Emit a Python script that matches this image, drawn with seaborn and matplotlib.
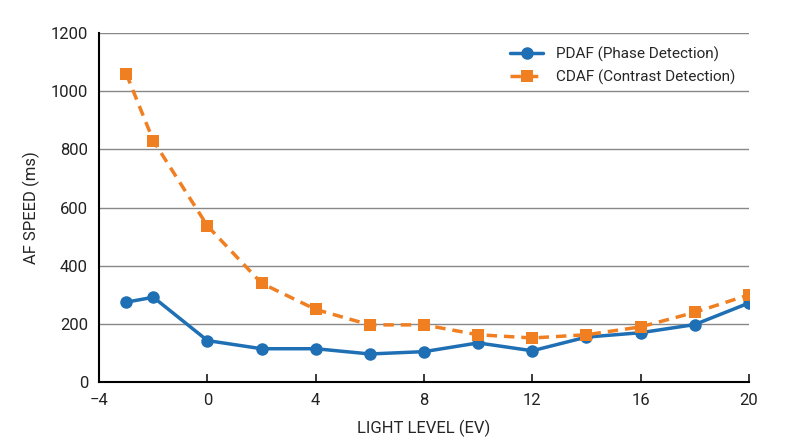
import numpy as np
import pandas as pd
import matplotlib.pyplot as plt
import seaborn as sns

# data
light_ev = [-3, -2, 0, 2, 4, 6, 8, 10, 12, 14, 16, 18, 20]
pdaf_ms = [275, 292, 143, 115, 115, 97, 105, 135, 108, 155, 170, 198, 272]
cdaf_ms = [1060, 830, 537, 340, 250, 197, 197, 163, 152, 163, 190, 240, 300]

sns.set_theme(style="white")
plt.rcParams['font.family'] = ['Roboto', 'DejaVu Sans']

df = pd.DataFrame({
    'ev': light_ev * 2,
    'ms': pdaf_ms + cdaf_ms,
    'series': ['PDAF (Phase Detection)'] * len(light_ev) + ['CDAF (Contrast Detection)'] * len(light_ev),
})

fig, ax = plt.subplots(figsize=(8, 4.47), dpi=100)
palette = {'PDAF (Phase Detection)': '#1f6fb4', 'CDAF (Contrast Detection)': '#f07f22'}
sns.lineplot(data=df, x='ev', y='ms', hue='series', style='series', palette=palette,
             markers={'PDAF (Phase Detection)': 'o', 'CDAF (Contrast Detection)': 's'},
             dashes={'PDAF (Phase Detection)': '', 'CDAF (Contrast Detection)': (3, 2)},
             markersize=9, markeredgewidth=0, linewidth=2.5, ax=ax)

ax.set_xlim(-4, 20)
ax.set_ylim(0, 1200)
ax.set_xticks(range(-4, 21, 4))
ax.set_yticks(range(0, 1201, 200))
ax.yaxis.grid(True, color='#888888', linewidth=1)
ax.set_axisbelow(True)
for s in ['top', 'right']:
    ax.spines[s].set_visible(False)
for s in ['left', 'bottom']:
    ax.spines[s].set_color('black')
    ax.spines[s].set_linewidth(1.5)
ax.tick_params(axis='x', direction='in', length=6, pad=8, colors='#222222', labelsize=12, bottom=True)
ax.tick_params(axis='y', length=0, pad=8, labelsize=12, colors='#222222')
ax.set_xlabel('LIGHT LEVEL (EV)', fontsize=12, labelpad=8)
ax.set_ylabel('AF SPEED (ms)', fontsize=12, labelpad=8)
ax.legend(title=None, loc='upper right', frameon=False, fontsize=11, handlelength=2.2)

plt.subplots_adjust(left=0.124, right=0.936, top=0.926, bottom=0.145)
plt.savefig('out.png', dpi=100)
